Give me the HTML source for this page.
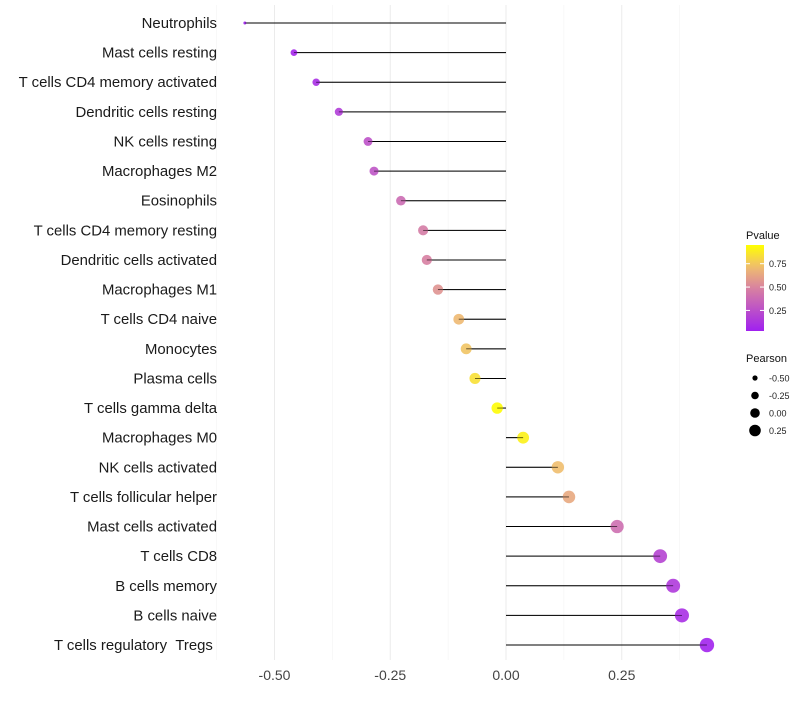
<!DOCTYPE html>
<html><head><meta charset="utf-8"><style>
body{margin:0;background:#fff;font-family:"Liberation Sans",sans-serif;}
</style></head><body>
<svg id="chart" width="800" height="700" xmlns="http://www.w3.org/2000/svg"></svg>
<script>
const categories=["Neutrophils","Mast cells resting","T cells CD4 memory activated","Dendritic cells resting","NK cells resting","Macrophages M2","Eosinophils","T cells CD4 memory resting","Dendritic cells activated","Macrophages M1","T cells CD4 naive","Monocytes","Plasma cells","T cells gamma delta","Macrophages M0","NK cells activated","T cells follicular helper","Mast cells activated","T cells CD8","B cells memory","B cells naive","T cells regulatory\u00a0\u00a0Tregs\u00a0"];
const pearson=[-0.564,-0.458,-0.410,-0.361,-0.298,-0.285,-0.227,-0.179,-0.171,-0.147,-0.102,-0.086,-0.067,-0.019,0.037,0.112,0.136,0.240,0.333,0.361,0.380,0.434];
const pvalue=[0.02,0.06,0.1,0.17,0.26,0.28,0.38,0.46,0.48,0.56,0.7,0.74,0.84,0.94,0.9,0.72,0.64,0.4,0.2,0.15,0.1,0.05];
const xTicks=[-0.5,-0.25,0,0.25];
const xTickLabels=["-0.50","-0.25","0.00","0.25"];
const pLegendTicks=[0.25,0.5,0.75];
const sizeLegend=[-0.5,-0.25,0,0.25];

const svg=document.getElementById('chart');
const NS="http://www.w3.org/2000/svg";
const x=v=>506+v*463;
const y=i=>23+i*29.62;
const rad=v=>1.5+5.7*Math.sqrt(Math.max(0,(v+0.564)/0.998));
const stops=[[0,[160,32,240]],[0.5,[216,130,160]],[0.75,[240,190,110]],[1,[255,255,0]]];
function col(p){p=Math.max(0,Math.min(1,(p-0.03)/0.92));for(let k=1;k<stops.length;k++){if(p<=stops[k][0]){const a=stops[k-1],b=stops[k];const t=(p-a[0])/(b[0]-a[0]);const c=a[1].map((v,j)=>Math.round(v+(b[1][j]-v)*t));return `rgb(${c})`;}}return 'rgb(255,255,0)';}
function mk(tag,attrs,parent){const e=document.createElementNS(NS,tag);for(const k in attrs)e.setAttribute(k,attrs[k]);(parent||svg).appendChild(e);return e;}

const minor=[-0.625,-0.375,-0.125,0.125,0.375];
minor.forEach(v=>{const l=mk('line',{x1:x(v),x2:x(v),y1:5,y2:660,stroke:'#f3f3f3','stroke-width':0.6});

});
xTicks.forEach((v,i)=>{const l=mk('line',{x1:x(v),x2:x(v),y1:5,y2:660,stroke:'#ebebeb','stroke-width':1});


const t=mk('text',{x:x(v),y:680,'text-anchor':'middle','font-size':14,fill:'#444'});t.textContent=xTickLabels[i];

});

categories.forEach((c,i)=>{
const t=mk('text',{x:217,y:y(i)+5,'text-anchor':'end','font-size':14.9,fill:'#1a1a1a'});t.textContent=c;


const l=mk('line',{x1:x(0),x2:x(pearson[i]),y1:y(i),y2:y(i),stroke:'#000','stroke-width':1});


const d=mk('circle',{cx:x(pearson[i]),cy:y(i),r:rad(pearson[i]),fill:col(pvalue[i]),'fill-opacity':0.9});


const l2=mk('line',{x1:x(0),x2:x(pearson[i]),y1:y(i),y2:y(i),stroke:'#000','stroke-width':0.8,'stroke-opacity':0.6});


});

const g=mk('g',{});


const defs=mk('defs',{},g);const lg=mk('linearGradient',{id:'pg',x1:0,y1:1,x2:0,y2:0},defs);
for(let k=0;k<=10;k++){mk('stop',{offset:k/10,'stop-color':col(0.03+0.92*k/10)},lg);}
const lt=mk('text',{x:746,y:239,'font-size':11,fill:'#111'},g);lt.textContent='Pvalue';


mk('rect',{x:746,y:245,width:18,height:86,fill:'url(#pg)'},g);
pLegendTicks.forEach(p=>{const yy=331-(p-0.03)/0.92*86;
mk('line',{x1:746,x2:750,y1:yy,y2:yy,stroke:'#fff'},g);mk('line',{x1:760,x2:764,y1:yy,y2:yy,stroke:'#fff'},g);
const t=mk('text',{x:769,y:yy+3.5,'font-size':9,fill:'#222'},g);t.textContent=p.toFixed(2);

});
const g2=mk('g',{});


const st=mk('text',{x:746,y:362,'font-size':11,fill:'#111'},g2);st.textContent='Pearson';


const legR=[2.6,3.8,4.8,5.8];
sizeLegend.forEach((v,i)=>{const yy=378+i*17.5;
mk('circle',{cx:755,cy:yy,r:legR[i],fill:'#000'},g2);
const t=mk('text',{x:769,y:yy+3.5,'font-size':9,fill:'#222'},g2);t.textContent=v.toFixed(2);

});
</script>
</body></html>
